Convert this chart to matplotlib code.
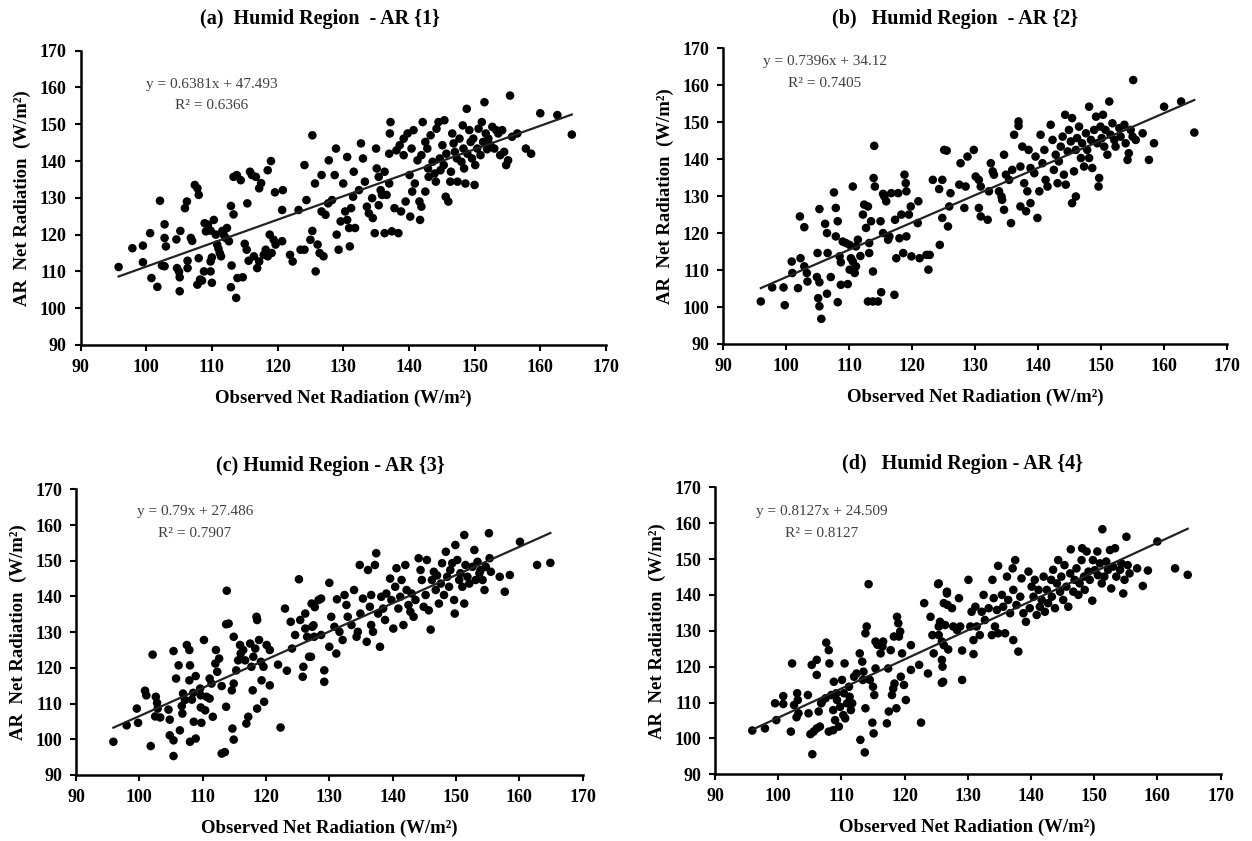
import matplotlib
matplotlib.use('Agg')
import matplotlib.pyplot as plt

plt.rcParams['font.family'] = ['Liberation Serif', 'DejaVu Serif']

# --- Panel (a) AR{1}: observed vs modelled net radiation (W/m2) ---
obs_a = [95.8, 97.9, 99.5, 99.5, 100.6, 100.8, 101.7, 102.1, 102.4, 102.8, 102.8, 102.8, 103.0,
         104.6, 104.7, 105.0, 105.1, 105.1, 105.2, 106.2, 105.9, 106.3, 106.3, 106.8, 107.0, 107.4,
         107.8, 108.0, 108.0, 107.8, 108.2, 108.8, 108.5, 108.9, 109.1, 109.4, 109.8, 109.8, 110.0,
         109.8, 110.0, 110.3, 110.6, 110.8, 111.0, 111.2, 111.4, 111.6, 111.8, 112.1, 112.3, 112.6,
         112.9, 113.0, 112.9, 113.3, 113.7, 113.3, 113.8, 114.4, 114.7, 113.9, 115.0, 115.3, 115.4,
         115.6, 115.8, 116.1, 116.4, 116.7, 116.9, 117.2, 117.2, 117.5, 117.9, 118.2, 118.5, 119.0,
         118.5, 119.1, 118.8, 119.4, 119.7, 119.6, 120.8, 120.7, 120.7, 121.9, 122.3, 123.2, 123.5,
         124.1, 124.1, 124.4, 125.0, 125.3, 125.3, 125.7, 125.8, 126.1, 126.4, 126.7, 126.7, 127.0,
         127.3, 127.7, 127.8, 128.3, 128.7, 128.9, 129.0, 129.3, 129.6, 130.0, 130.3, 130.6, 130.6,
         130.9, 131.0, 131.2, 131.5, 131.6, 131.8, 132.4, 132.7, 133.0, 133.3, 133.6, 133.9, 134.4,
         134.5, 134.8, 135.0, 135.1, 135.4, 135.4, 135.7, 135.9, 136.3, 136.3, 136.6, 137.0, 137.0,
         137.1, 137.2, 137.4, 137.8, 138.1, 138.4, 138.6, 138.8, 139.2, 139.2, 139.5, 139.8, 140.1,
         140.2, 140.4, 140.5, 140.7, 140.9, 141.3, 141.6, 141.7, 141.9, 141.9, 142.1, 142.5, 142.5,
         142.8, 142.9, 143.0, 143.3, 143.6, 143.9, 144.1, 144.2, 144.5, 144.7, 144.8, 145.1, 145.3,
         145.4, 145.6, 145.7, 146.0, 146.3, 146.4, 146.6, 146.8, 147.0, 147.3, 147.4, 147.7, 148.0,
         148.2, 148.3, 148.4, 148.6, 148.8, 148.9, 149.2, 149.4, 149.6, 149.8, 150.0, 150.1, 150.4,
         150.6, 150.9, 151.1, 151.3, 151.5, 151.7, 151.9, 152.1, 152.4, 152.7, 153.0, 153.3, 153.6,
         153.9, 154.2, 154.5, 154.8, 155.1, 155.4, 155.7, 156.5, 157.8, 158.6, 160.0, 162.6, 164.8]
ar1 = [111.2, 116.3, 117.0, 112.5, 120.4, 108.2, 105.8, 129.2, 111.6, 111.4, 122.8, 119.1, 116.8,
       118.7, 110.9, 109.9, 108.4, 104.6, 121.0, 129.0, 127.2, 112.9, 110.9, 119.1, 118.3, 133.5,
       132.6, 130.8, 113.6, 106.4, 107.8, 110.0, 107.5, 123.1, 120.9, 122.7, 121.1, 112.7, 106.9,
       110.0, 113.8, 124.0, 120.0, 117.3, 116.2, 115.0, 114.1, 121.0, 120.0, 119.1, 121.8, 118.2,
       127.8, 111.6, 105.7, 125.5, 102.8, 135.7, 136.2, 134.8, 108.4, 108.2, 117.5, 115.9, 128.5,
       112.9, 137.1, 136.2, 114.1, 135.7, 110.9, 132.6, 112.7, 134.0, 114.5, 115.9, 137.5, 140.0,
       114.1, 115.0, 120.0, 118.6, 117.3, 131.5, 132.1, 126.7, 118.2, 114.5, 112.7, 126.7, 115.9,
       115.9, 138.9, 129.4, 118.6, 147.0, 121.0, 133.9, 110.0, 117.3, 115.0, 126.3, 136.2, 114.1,
       125.4, 128.5, 140.2, 129.4, 136.2, 143.4, 120.0, 115.9, 123.6, 133.9, 126.3, 141.1, 124.0,
       121.8, 116.8, 127.2, 130.3, 137.1, 121.8, 132.1, 144.8, 140.7, 134.4, 127.6, 125.8, 129.9,
       124.5, 120.4, 143.4, 138.0, 135.7, 128.0, 132.1, 130.8, 120.4, 137.1, 130.8, 133.9, 142.0,
       147.5, 150.6, 120.9, 127.2, 142.9, 120.4, 144.3, 126.3, 141.6, 146.1, 129.0, 147.5, 136.2,
       124.9, 143.4, 131.7, 148.4, 133.9, 140.2, 129.0, 124.0, 127.6, 141.6, 150.6, 145.2, 131.7,
       143.4, 138.0, 135.7, 147.0, 139.8, 136.6, 134.4, 148.8, 150.6, 140.7, 137.5, 144.3, 138.9,
       151.1, 130.3, 142.0, 129.0, 134.4, 137.1, 147.5, 144.8, 142.5, 140.7, 134.4, 146.1, 139.8,
       149.7, 143.4, 138.0, 133.9, 154.2, 142.0, 148.4, 145.2, 140.7, 146.1, 133.5, 138.9, 143.4,
       148.8, 141.6, 150.6, 145.2, 156.0, 147.5, 143.2, 146.1, 144.3, 149.3, 143.4, 148.4, 147.5,
       141.6, 148.4, 142.5, 138.9, 140.2, 157.8, 146.6, 147.5, 143.4, 142.0, 153.0, 152.5, 147.2]

# --- Panel (b) AR{2} ---
obs_b = [96.0, 97.8, 99.6, 99.8, 100.9, 101.0, 101.9, 102.2, 102.9, 102.3, 102.9, 103.3, 103.4,
         105.0, 104.9, 105.3, 105.1, 105.3, 105.6, 105.3, 106.2, 106.5, 106.5, 106.6, 107.1, 107.6,
         107.9, 108.2, 107.9, 108.2, 108.5, 108.7, 108.7, 109.0, 109.5, 109.8, 110.1, 110.1, 110.3,
         110.6, 110.6, 110.9, 111.1, 111.1, 111.4, 111.8, 112.2, 112.4, 112.7, 113.0, 113.2, 113.2,
         113.5, 113.8, 113.0, 113.8, 114.6, 115.1, 114.0, 113.9, 114.1, 115.0, 115.4, 115.4, 115.6,
         115.9, 116.2, 116.4, 116.7, 117.2, 117.5, 117.3, 117.8, 118.0, 118.3, 118.8, 119.0, 119.1,
         119.1, 119.5, 119.8, 118.6, 119.9, 120.9, 121.0, 121.2, 122.3, 122.6, 122.8, 123.3, 124.3,
         124.4, 124.8, 124.8, 125.5, 125.7, 125.9, 125.1, 126.1, 127.5, 127.7, 128.8, 128.5, 128.3,
         129.8, 130.1, 130.6, 130.9, 130.6, 130.9, 132.0, 132.2, 132.5, 132.8, 133.0, 133.8, 134.2,
         134.3, 134.6, 134.6, 134.9, 135.4, 135.7, 135.9, 136.2, 136.9, 137.2, 136.9, 137.2, 137.5,
         137.8, 138.1, 138.3, 138.5, 138.8, 138.8, 139.4, 139.6, 139.9, 140.2, 140.4, 140.7, 141.0,
         141.2, 141.5, 142.0, 142.3, 142.5, 142.8, 143.1, 143.3, 143.6, 143.9, 144.1, 144.3, 144.4,
         144.7, 144.9, 145.2, 145.4, 145.4, 145.7, 146.0, 146.0, 146.2, 146.5, 146.8, 147.0, 147.3,
         147.6, 147.8, 148.1, 148.1, 148.4, 148.6, 148.9, 149.2, 149.4, 149.6, 149.7, 149.9, 150.1,
         150.3, 150.5, 150.7, 151.0, 151.3, 151.5, 151.8, 152.1, 152.3, 152.9, 153.1, 153.7, 153.9,
         154.2, 154.4, 154.7, 155.0, 155.1, 155.5, 156.6, 157.6, 158.4, 160.0, 162.7, 164.8]
ar2 = [101.5, 105.3, 105.3, 100.5, 112.3, 109.2, 105.1, 124.5, 121.6, 113.2, 111.0, 109.2, 106.9,
       114.6, 108.1, 106.7, 102.4, 100.2, 96.8, 126.5, 122.5, 120.0, 103.6, 114.6, 108.1, 131.0,
       126.8, 123.2, 119.1, 101.3, 113.7, 112.1, 106.0, 117.7, 117.3, 106.2, 110.1, 116.8, 113.2,
       112.3, 132.6, 109.2, 116.4, 111.0, 118.2, 113.8, 125.0, 127.7, 121.4, 127.2, 117.3, 114.6,
       123.2, 109.6, 101.5, 101.5, 101.5, 104.0, 143.6, 134.9, 132.6, 123.2, 130.6, 120.0, 129.9,
       128.6, 118.2, 119.1, 130.8, 103.3, 113.2, 123.6, 130.8, 118.6, 125.0, 135.8, 133.5, 131.3,
       119.1, 125.0, 127.2, 114.6, 113.7, 122.7, 128.6, 113.2, 114.1, 110.1, 114.1, 134.4, 131.9,
       116.8, 134.4, 124.1, 142.3, 121.8, 127.2, 142.5, 130.8, 133.1, 138.9, 140.7, 132.6, 126.8,
       142.5, 135.3, 134.4, 132.6, 126.8, 124.5, 123.6, 131.3, 138.9, 136.7, 135.8, 131.3, 129.9,
       129.0, 126.3, 141.2, 135.8, 134.4, 122.7, 137.1, 146.6, 150.2, 127.2, 149.0, 138.0, 143.4,
       133.5, 125.9, 131.3, 142.5, 137.6, 128.1, 136.2, 140.7, 124.1, 131.3, 146.6, 138.9, 142.5,
       134.4, 132.6, 149.3, 145.2, 137.1, 141.2, 133.5, 139.4, 143.4, 146.1, 135.8, 152.0, 133.1,
       142.1, 147.9, 144.8, 151.1, 128.1, 136.7, 129.9, 142.5, 145.7, 148.8, 140.3, 144.3, 138.0,
       147.0, 142.5, 154.2, 140.3, 145.2, 137.6, 147.9, 151.5, 144.3, 132.6, 134.9, 148.8, 145.7,
       152.0, 143.4, 147.9, 141.2, 155.6, 146.6, 149.7, 145.2, 143.4, 148.4, 146.1, 149.3, 144.3,
       139.8, 141.6, 147.9, 146.1, 161.4, 145.2, 147.0, 139.8, 144.3, 154.2, 155.6, 147.2]

# --- Panel (c) AR{3} ---
obs_c = [95.9, 98.0, 99.6, 99.8, 100.9, 101.1, 101.8, 102.1, 102.6, 102.8, 102.9, 102.5, 103.3,
         104.6, 104.8, 104.8, 105.4, 105.4, 105.4, 105.8, 106.2, 106.4, 106.7, 106.8, 107.2, 106.9,
         107.5, 107.9, 108.0, 108.0, 107.9, 108.3, 108.5, 108.6, 108.9, 108.9, 109.6, 109.7, 109.7,
         109.8, 110.2, 110.4, 110.6, 111.1, 111.1, 111.4, 111.6, 112.0, 112.1, 112.3, 112.6, 113.0,
         113.0, 113.5, 113.7, 113.8, 113.7, 114.1, 114.6, 114.7, 114.9, 114.9, 114.9, 115.3, 115.6,
         115.9, 116.0, 116.4, 116.7, 116.9, 117.2, 117.5, 117.7, 117.9, 118.0, 118.3, 118.5, 118.6,
         118.6, 118.9, 119.2, 119.3, 119.6, 119.7, 120.1, 120.6, 120.6, 121.9, 122.3, 123.0, 123.3,
         123.9, 124.1, 124.6, 125.2, 125.4, 125.8, 125.9, 126.2, 126.2, 126.5, 126.8, 127.2, 127.5,
         127.7, 128.3, 127.1, 127.6, 127.3, 128.7, 129.2, 129.2, 128.7, 130.0, 130.0, 130.3, 130.8,
         131.1, 131.2, 131.6, 132.1, 132.4, 132.7, 132.9, 133.5, 133.9, 134.3, 134.5, 134.8, 134.9,
         135.3, 135.9, 136.1, 136.4, 136.6, 136.6, 136.9, 137.2, 137.4, 137.7, 138.0, 138.2, 138.5,
         138.8, 139.0, 139.6, 139.8, 140.1, 140.4, 140.6, 140.9, 141.2, 141.4, 141.7, 142.0, 142.2,
         142.5, 142.8, 143.0, 143.3, 143.6, 144.1, 144.4, 144.6, 144.9, 145.2, 145.4, 145.7, 146.0,
         146.2, 146.5, 146.8, 147.0, 147.3, 147.6, 147.8, 148.1, 148.4, 148.6, 148.9, 149.1, 149.4,
         149.7, 149.8, 149.9, 150.2, 150.5, 150.7, 151.0, 151.3, 151.3, 151.5, 151.8, 152.1, 152.6,
         152.9, 153.1, 153.4, 153.7, 153.9, 154.2, 154.5, 154.7, 155.2, 155.3, 155.5, 156.9, 157.7,
         158.5, 160.1, 162.8, 164.9]
ar3 = [99.3, 103.9, 108.6, 104.6, 113.6, 112.3, 98.1, 123.7, 111.9, 110.2, 108.6, 106.4, 106.1,
       108.3, 105.5, 101.1, 124.7, 99.7, 95.3, 117.0, 120.7, 102.5, 109.3, 107.2, 111.0, 112.8,
       126.4, 125.0, 120.7, 99.3, 116.5, 111.1, 113.0, 104.9, 117.7, 100.2, 114.2, 108.9, 112.3,
       104.6, 127.8, 108.1, 111.9, 111.4, 117.0, 115.6, 106.3, 121.2, 125.0, 118.9, 122.6, 114.9,
       96.0, 96.4, 132.2, 141.6, 109.1, 132.4, 113.7, 103.0, 115.6, 128.7, 99.9, 119.3, 122.1,
       126.4, 124.0, 125.0, 122.1, 104.4, 106.3, 126.8, 120.3, 113.7, 123.1, 125.4, 134.3, 133.4,
       108.6, 127.8, 121.7, 116.5, 120.3, 110.5, 126.4, 125.0, 115.1, 120.9, 103.3, 136.6, 119.2,
       132.9, 125.4, 129.2, 144.8, 133.4, 117.5, 120.3, 131.0, 135.2, 128.7, 123.1, 138.0, 131.9,
       137.0, 139.0, 123.1, 128.7, 131.5, 139.4, 119.3, 116.1, 129.2, 143.8, 125.9, 134.3, 131.5,
       124.0, 139.2, 130.1, 127.8, 140.4, 137.6, 134.3, 132.0, 141.8, 128.7, 130.1, 148.8, 135.2,
       139.4, 127.3, 147.4, 137.1, 140.4, 132.0, 130.1, 148.8, 152.1, 135.2, 125.9, 139.9, 136.6,
       133.4, 140.8, 145.0, 139.0, 131.0, 142.7, 147.9, 136.6, 139.9, 144.6, 132.0, 148.8, 141.8,
       137.6, 135.7, 140.8, 134.3, 139.0, 150.7, 147.4, 144.6, 137.1, 140.4, 150.2, 136.1, 130.7,
       144.6, 146.9, 141.8, 145.9, 138.0, 143.6, 149.3, 140.4, 152.5, 145.5, 142.7, 147.4, 149.3,
       139.0, 135.2, 154.4, 150.2, 144.6, 146.5, 142.7, 157.2, 138.0, 148.8, 145.5, 143.6, 148.3,
       153.0, 144.6, 149.7, 146.5, 147.4, 144.6, 141.8, 148.3, 157.7, 150.7, 146.9, 145.5, 141.3,
       146.0, 155.3, 148.8, 149.4]

# --- Panel (d) AR{4} ---
obs_d = [95.9, 97.9, 99.5, 99.7, 100.8, 100.8, 102.0, 102.2, 102.5, 102.9, 103.0, 103.1, 103.2,
         104.7, 104.8, 105.1, 105.3, 105.4, 105.6, 106.1, 106.1, 106.1, 106.4, 106.6, 106.8, 106.9,
         107.5, 107.6, 108.0, 108.0, 108.1, 108.4, 108.7, 108.7, 108.8, 109.0, 109.2, 109.3, 109.6,
         109.8, 110.1, 110.3, 110.4, 110.5, 110.6, 110.9, 111.2, 111.3, 111.5, 111.7, 112.0, 112.4,
         112.9, 113.0, 113.3, 113.4, 113.5, 113.7, 113.8, 113.8, 114.0, 114.3, 114.5, 114.9, 115.0,
         115.1, 115.2, 115.4, 115.4, 115.7, 116.2, 116.5, 116.6, 117.2, 117.4, 117.5, 117.8, 118.0,
         118.2, 118.3, 118.4, 118.7, 118.8, 119.0, 119.1, 119.3, 119.4, 119.6, 119.9, 120.2, 121.0,
         121.0, 122.3, 122.6, 123.1, 123.7, 124.1, 124.4, 124.6, 125.3, 125.4, 125.6, 126.0, 126.1,
         126.2, 126.7, 126.8, 125.4, 125.4, 126.2, 126.4, 125.9, 125.9, 125.9, 126.7, 126.9, 127.5,
         127.7, 128.3, 128.6, 128.8, 129.1, 129.1, 130.1, 130.4, 130.6, 130.9, 130.9, 131.2, 131.4,
         131.9, 132.2, 132.5, 132.7, 133.3, 133.8, 133.9, 134.1, 134.3, 134.6, 134.8, 134.8, 135.4,
         135.6, 135.9, 136.2, 136.4, 136.7, 137.1, 137.2, 137.2, 137.5, 137.7, 138.0, 138.3, 138.5,
         138.8, 139.2, 139.6, 139.8, 140.1, 140.4, 140.6, 140.9, 141.2, 141.4, 141.7, 142.0, 142.2,
         142.5, 142.7, 143.2, 143.3, 143.5, 143.8, 144.1, 144.3, 144.6, 144.8, 145.1, 145.3, 145.6,
         145.9, 146.2, 146.3, 146.7, 146.9, 147.2, 147.5, 147.7, 148.0, 148.1, 148.4, 148.5, 148.8,
         149.1, 149.3, 149.7, 149.8, 150.1, 150.5, 150.6, 150.9, 151.2, 151.3, 151.6, 151.9, 152.2,
         152.5, 152.7, 153.0, 153.3, 153.5, 154.1, 154.3, 154.6, 154.8, 155.1, 155.3, 155.6, 156.8,
         157.7, 158.5, 160.0, 162.8, 164.8]
ar4 = [102.2, 102.8, 109.8, 105.1, 111.8, 109.6, 101.9, 120.9, 109.3, 105.9, 112.6, 110.7, 107.0,
       112.1, 107.0, 101.2, 120.5, 95.6, 101.9, 121.9, 117.7, 102.8, 107.5, 103.3, 109.8, 110.2,
       111.2, 126.7, 124.6, 101.9, 120.9, 112.1, 107.9, 102.3, 115.8, 105.1, 112.6, 110.7, 103.3,
       108.8, 116.3, 106.5, 112.6, 120.9, 105.6, 109.8, 114.4, 111.6, 107.9, 109.8, 117.2, 118.1,
       123.7, 99.6, 121.4, 116.3, 118.6, 96.1, 108.4, 129.3, 131.2, 143.0, 116.3, 104.4, 114.4,
       101.4, 112.1, 119.5, 127.0, 126.1, 123.7, 125.6, 127.0, 104.2, 119.5, 107.5, 124.6, 112.1,
       113.9, 128.4, 115.3, 108.4, 133.9, 132.1, 128.4, 129.8, 117.2, 123.7, 114.9, 110.7, 126.0,
       119.1, 120.5, 104.4, 137.7, 118.1, 133.9, 128.8, 123.7, 143.0, 128.8, 132.5, 120.0, 115.8,
       126.0, 140.4, 137.2, 143.2, 131.2, 137.7, 131.6, 127.0, 121.9, 115.5, 140.9, 124.8, 136.3,
       131.2, 130.2, 139.1, 131.2, 124.5, 116.3, 144.2, 131.2, 135.3, 127.4, 123.5, 136.7, 131.2,
       128.8, 135.3, 140.0, 133.0, 136.3, 128.8, 144.2, 139.1, 131.2, 135.8, 129.3, 148.1, 140.0,
       136.7, 129.3, 145.1, 138.6, 134.9, 147.4, 141.4, 127.4, 149.7, 137.2, 124.2, 139.5, 144.6,
       134.9, 132.5, 146.5, 136.3, 142.3, 139.5, 144.2, 134.4, 141.4, 136.7, 138.6, 145.1, 135.3,
       141.4, 137.7, 144.2, 139.5, 147.0, 136.3, 143.2, 149.7, 140.9, 145.1, 138.6, 148.3, 142.3,
       136.7, 146.0, 152.7, 140.9, 144.2, 147.4, 140.0, 143.2, 149.7, 153.0, 145.1, 141.4, 152.1,
       146.5, 144.2, 138.4, 149.7, 146.9, 152.1, 145.5, 148.8, 143.2, 158.3, 145.1, 149.3, 147.0,
       152.5, 141.8, 147.9, 153.0, 145.1, 147.0, 148.8, 140.4, 144.2, 156.2, 148.3, 146.0, 147.4,
       142.5, 146.8, 154.9, 147.4, 145.6]

titles = ['(a)  Humid Region  - AR {1}', '(b)   Humid Region  - AR {2}',
          '(c) Humid Region - AR {3}', '(d)   Humid Region - AR {4}']
slopes = [0.6381, 0.7396, 0.79, 0.8127]
intercepts = [47.493, 34.12, 27.486, 24.509]
eq_labels = ['y = 0.6381x + 47.493', 'y = 0.7396x + 34.12', 'y = 0.79x + 27.486', 'y = 0.8127x + 24.509']
r2_labels = ['R² = 0.6366', 'R² = 0.7405', 'R² = 0.7907', 'R² = 0.8127']

xs = [obs_a, obs_b, obs_c, obs_d]
ys = [ar1, ar2, ar3, ar4]

# axes rectangles [left, bottom, width, height] in figure fraction
rects = [[0.0643, 0.5898, 0.4197, 0.3499],
         [0.5775, 0.5910, 0.4026, 0.3516],
         [0.0607, 0.0785, 0.4047, 0.3397],
         [0.5711, 0.0793, 0.4038, 0.3413]]
title_pos = [(320, 19), (955, 19), (330, 466), (962, 464)]
eq_pos = [(110.0, 160.7, 155.1), (106.2, 166.4, 160.5), (108.8, 163.7, 157.7), (106.9, 163.2, 157.2)]

fig = plt.figure(figsize=(12.52, 8.41), dpi=100)

for i in range(4):
    ax = fig.add_axes(rects[i])
    ax.scatter(xs[i], ys[i], s=38, c='black', edgecolors='none', zorder=3)

    # trend line from the printed regression equation
    x0, x1 = min(xs[i]), max(xs[i])
    ax.plot([x0, x1], [slopes[i] * x0 + intercepts[i], slopes[i] * x1 + intercepts[i]],
            color='#222222', lw=1.6, zorder=4)

    ax.set_xlim(90, 170)
    ax.set_ylim(90, 170)
    ax.set_xticks(range(90, 171, 10))
    ax.set_yticks(range(90, 171, 10))
    for s in ['top', 'right']:
        ax.spines[s].set_visible(False)
    for s in ['left', 'bottom']:
        ax.spines[s].set_linewidth(1.8)
    ax.tick_params(direction='out', length=4, width=1.5, labelsize=13, pad=6)
    for lab in ax.get_xticklabels() + ax.get_yticklabels():
        lab.set_fontweight('bold')

    ax.set_xlabel('Observed Net Radiation (W/m²)', fontsize=13.5, fontweight='bold', labelpad=10)
    ax.set_ylabel('AR  Net Radiation  (W/m²)', fontsize=13.5, fontweight='bold', labelpad=6)

    ex, ey1, ey2 = eq_pos[i]
    ax.text(ex, ey1, eq_labels[i], ha='center', va='center', fontsize=11, color='#404040')
    ax.text(ex, ey2, r2_labels[i], ha='center', va='center', fontsize=11, color='#404040')

    tx, ty = title_pos[i]
    fig.text(tx / 1252, 1 - ty / 841, titles[i], ha='center', va='center',
             fontsize=14.5, fontweight='bold')

fig.savefig('out.png', dpi=100, facecolor='white')
